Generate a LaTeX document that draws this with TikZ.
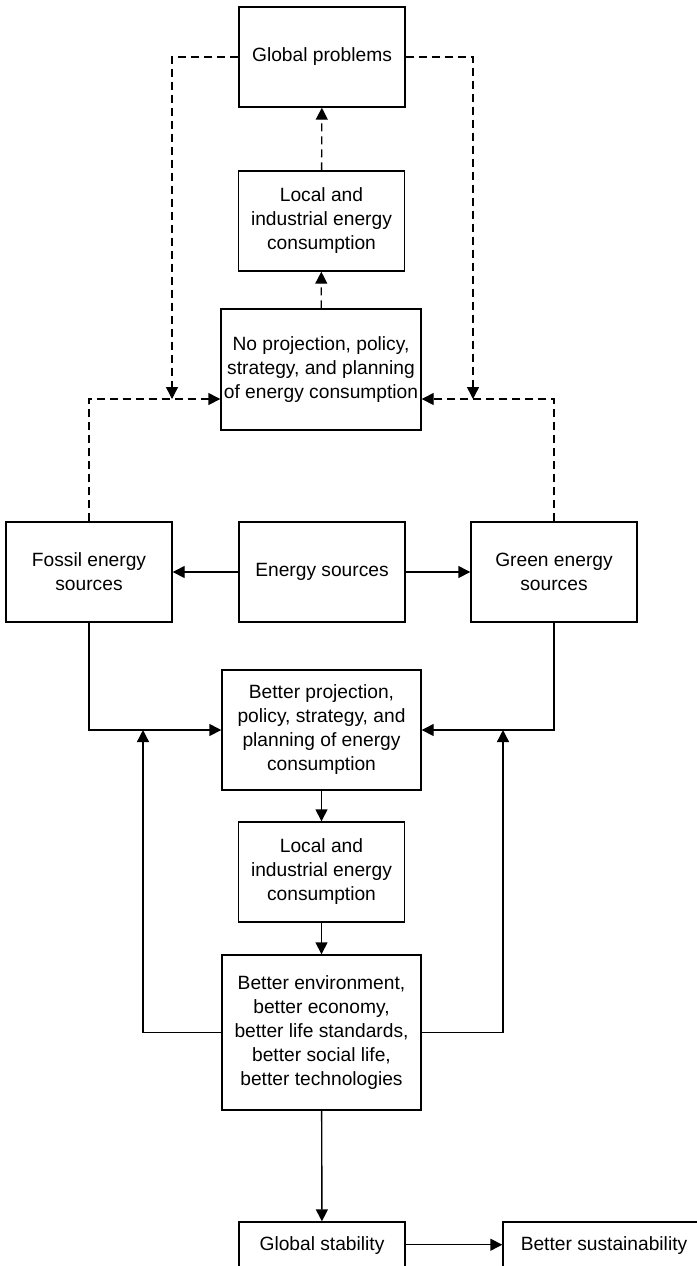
\documentclass[tikz,border=0pt]{standalone}
\usepackage{fontspec}
\setmainfont{Liberation Sans}
\usepackage{tikz}
\usetikzlibrary{calc}
\usetikzlibrary{arrows.meta}

\begin{document}
\begin{tikzpicture}[x=0.5pt, y=-0.5pt, >={Triangle[length=6pt,width=6pt]}]
            \useasboundingbox (0,0) rectangle (697,1266);

            \begin{scope}[every node/.style={draw, line width=0.7pt, align=center, inner sep=0pt,
                    minimum width=83pt, minimum height=50pt, font=\fontsize{9.6}{12}\selectfont}]
                \node (gp) at (322,57) {Global problems};
                \node (lct) at (321.5,221) {Local and\\industrial energy\\consumption};
                \node[minimum width=100pt, minimum height=60.5pt] (nop) at (321,369.5) {No projection, policy,\\strategy, and planning\\of energy consumption};
                \node (fos) at (89,572) {Fossil energy\\sources};
                \node (ens) at (322,572) {Energy sources};
                \node (grn) at (554,572) {Green energy\\sources};
                \node[minimum width=99.5pt, minimum height=60pt] (bpr) at (321.5,730) {Better projection,\\policy, strategy, and\\planning of energy\\consumption};
                \node (lcb) at (321.5,872) {Local and\\industrial energy\\consumption};
                \node[minimum width=99.5pt, minimum height=77.5pt] (ben) at (321.5,1032.5) {Better environment,\\better economy,\\better life standards,\\better social life,\\better technologies};
                \node[anchor=base, minimum height=0pt, text height=14pt, text depth=20pt] (gst) at (322,1250) {Global stability};
                \node[anchor=base, minimum width=101pt, minimum height=0pt, text height=14pt, text depth=20pt] (bsu) at (604,1250) {Better sustainability};
            \end{scope}

            \coordinate (jl) at (172,399);
            \coordinate (jr) at (473,399);
            \coordinate (bl) at (143,730);
            \coordinate (br) at (503,730);

            \begin{scope}[line width=0.7pt, dash pattern=on 4pt off 2.5pt]
                \path [->] (nop) edge (lct);
                \path [->] (lct) edge (gp);
                \draw [->] (gp.west) -| (jl);
                \draw [->] (gp.east) -| (jr);
                \draw [->] (fos.north) |- (nop.west |- jl);
                \draw [->] (grn.north) |- (nop.east |- jr);
            \end{scope}

            \begin{scope}[line width=0.7pt]
                \path [->] (ens) edge (fos);
                \path [->] (ens) edge (grn);
                \draw [->] (fos.south) |- (bpr.west);
                \draw [->] (grn.south) |- (bpr.east);
                \path [->] (bpr) edge (lcb);
                \path [->] (lcb) edge (ben);
                \path [->] (ben) edge (gst);
                \draw [->] (ben.west) -| (bl);
                \draw [->] (ben.east) -| (br);
                \draw [->] (gst.mid east) -- (bsu.mid west);
            \end{scope}
        \end{tikzpicture}
\end{document}
